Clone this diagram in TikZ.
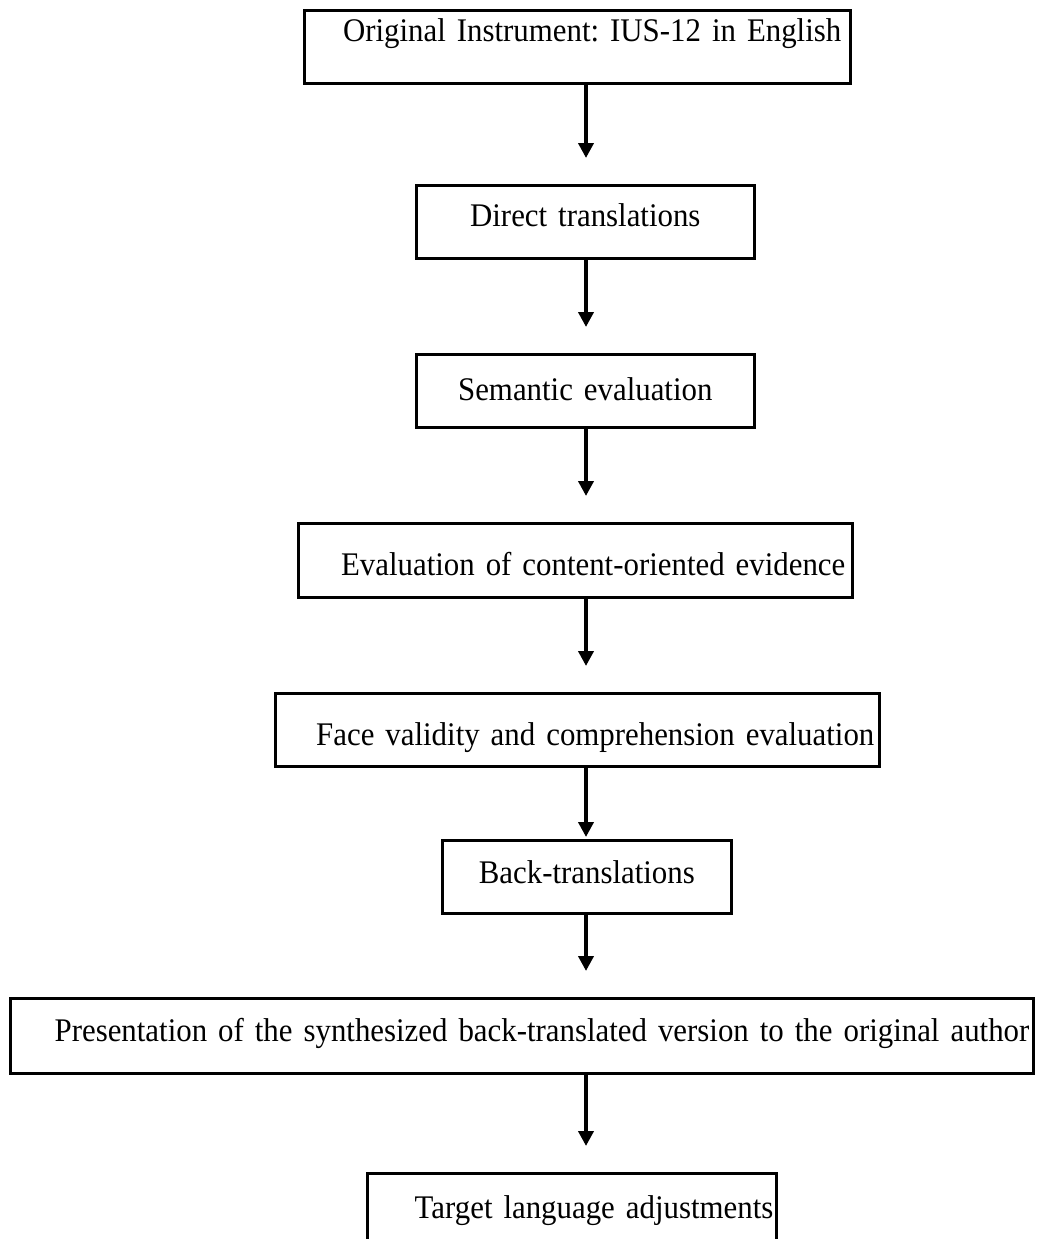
\documentclass[tikz,border=0pt]{standalone}
\usepackage{fontspec}
\setmainfont{Liberation Serif}[FakeStretch = 0.935]
\usetikzlibrary{calc,arrows.meta}
\frenchspacing

\begin{document}
\begin{tikzpicture}[x = 1pt, y = -1pt,
  stepbox/.style = {draw, line width = 2.6pt, inner ysep = 0pt, anchor = north west,
                    font = \fontsize{33}{38}\selectfont},
  flow/.style = {line width = 4pt, -{Triangle[length = 15pt, width = 15pt]}, shorten > = 26pt}]

\useasboundingbox (0,0) rectangle (1038,1239);

%line of the arrows
\coordinate (axis) at (586,0);

%boxes, top to bottom
\node[stepbox, inner xsep = 9pt, text width = 528pt, align = right, text height = 31pt, text depth = 42pt]
  (orig) at (303,9) {Original Instrument: IUS-12 in English};
\node[stepbox, inner xsep = 0pt, text width = 338pt, align = center, text height = 41pt, text depth = 32pt]
  (direct) at (415,184) {Direct translations};
\node[stepbox, inner xsep = 0pt, text width = 338pt, align = center, text height = 46pt, text depth = 27pt]
  (semantic) at (415,353) {Semantic evaluation};
\node[stepbox, inner xsep = 7pt, text width = 540pt, align = right, text height = 52pt, text depth = 22pt]
  (content) at (297,522) {Evaluation of content-oriented evidence};
\node[stepbox, inner xsep = 5pt, text width = 594pt, align = right, text height = 52pt, text depth = 21pt]
  (face) at (274,692) {Face validity and comprehension evaluation};
\node[stepbox, inner xsep = 0pt, text width = 289pt, align = center, text height = 43pt, text depth = 30pt]
  (back) at (441,839) {Back-translations};
\node[stepbox, inner xsep = 4pt, text width = 1015pt, align = right, text height = 43pt, text depth = 32pt]
  (present) at (9,997) {Presentation of the synthesized back-translated version to the original author};
\node[stepbox, inner xsep = 3pt, text width = 403pt, align = right, text height = 45pt, text depth = 35pt]
  (target) at (366,1172) {Target language adjustments};

%arrows
\draw[flow] (orig.south -| axis) -- (direct.north -| axis);
\draw[flow] (direct.south -| axis) -- (semantic.north -| axis);
\draw[flow] (semantic.south -| axis) -- (content.north -| axis);
\draw[flow] (content.south -| axis) -- (face.north -| axis);
\draw[flow, shorten > = 2pt] (face.south -| axis) -- (back.north -| axis);
\draw[flow] (back.south -| axis) -- (present.north -| axis);
\draw[flow] (present.south -| axis) -- (target.north -| axis);

\end{tikzpicture}
\end{document}
